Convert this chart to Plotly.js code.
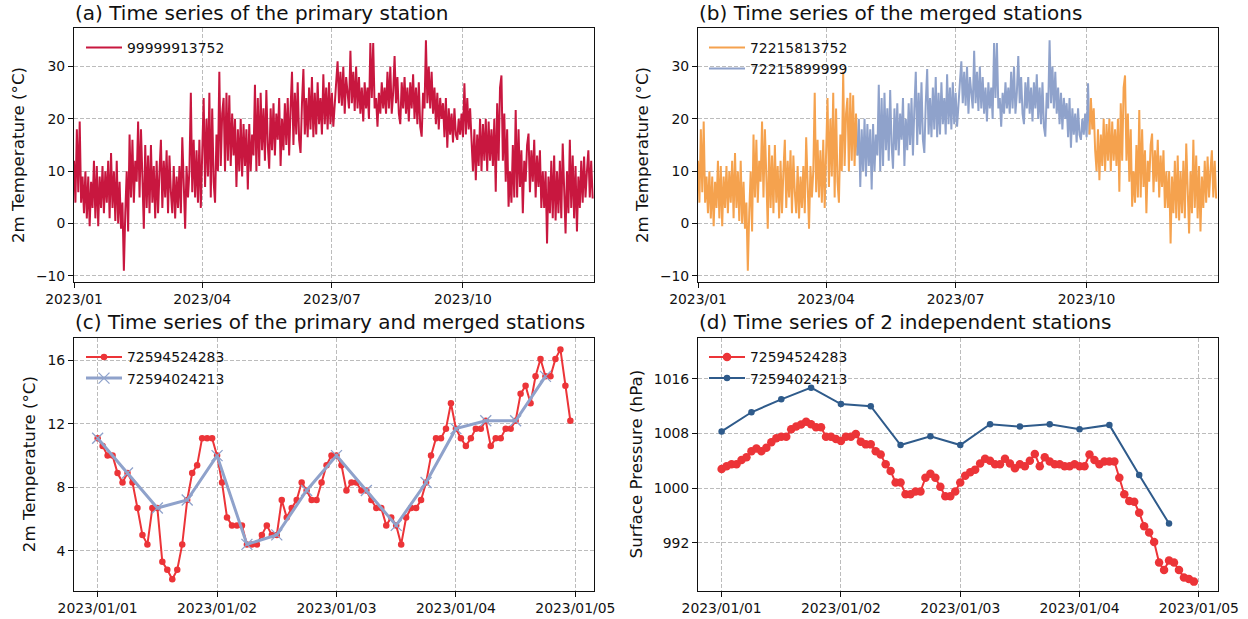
<!DOCTYPE html>
<html>
<head>
<meta charset="utf-8">
<script src="https://cdn.plot.ly/plotly-3.0.1.min.js"></script>
<style>
  html, body { margin: 0; padding: 0; background: #ffffff; }
  #chart { width: 1248px; height: 619px; }
</style>
</head>
<body>
<div id="chart"></div>
<script>
// ---- 2 m temperature (°C) through 2023, one sample per day ----
const primaryTemp = [
  12, 4, 18, 6, 19.5, 4, 9, 2, 10, 1,
  9, -0.5, 8, 3, 12, 1, 11, -0.5, 9, 3,
  11, 2, 10, 4, 12, 1, 13.5, 3, 10, 0.5,
  12, 0, 8, -1, 4, -9, 2, 10, -1.5, 17,
  5, 16, 4, 12, 8, 19.5, 5, 18, 9, -1,
  15, 3, 13, 2, 15, 4, 11, 1, 12, 2,
  10, 16, 3, 12, 5, 14, 2, 13, 6, 2,
  11, 1, 9, 3, 11, 2, 16.5, 6, -1, 11,
  5, 10, 25, 6, 16, 5, 14, 4, 16, 3,
  12, 24, 7, 20, 9, 25, 5, 22, 8, 4,
  17, 10, 29, 11, 21, 24, 10, 25, 12, 24.5,
  11, 21, 13, 20, 7, 18, 10, 20, 9, 19,
  11, 18, 6.5, 19, 10, 17, 13, 26.5, 10, 24,
  11, 25, 14, 22, 12, 25.5, 15, 10.5, 22, 14,
  23, 13, 21, 16, 24, 11, 20, 14, 23, 15,
  24, 13, 22, 29, 15, 25, 17, 27, 16, 13.5,
  23, 29.5, 17, 24, 16.5, 26, 18, 28, 16.5, 25,
  17, 27, 19, 24, 17, 28.5, 19, 26, 18, 27,
  19, 25, 18.5, 22, 27, 31, 23, 29, 22.5, 30,
  21, 28, 24, 22, 33, 23, 29, 21.5, 30, 22,
  28, 21, 26, 19.5, 27, 22, 26, 20, 34.5, 24,
  34.5, 22, 24, 18.5, 25, 21, 27, 22, 26, 21,
  29, 22, 30, 21, 25, 32, 23, 28, 21, 19,
  27, 22, 28, 21, 26, 19.5, 27, 22, 28.5, 20,
  26, 19, 27, 18.5, 16.6, 25, 22, 35, 23, 30,
  22, 29, 21, 26, 19, 25, 18, 24, 20, 23,
  16.5, 24, 14.5, 22, 17, 21, 15.5, 22, 17, 16,
  20, 17, 21, 16.5, 26.8, 17, 24, 18, 22, 14,
  10, 18, 8.3, 17, 11, 20, 10, 19, 12, 20,
  10, 19.5, 12, 18, 11, 20, 6.1, 23, 12, 26,
  28.3, 12, 21, 8, 18, 3.2, 10, 4, 15, 5,
  21.7, 5, 18, 7, 14, 2, 12, 8, 15, 17.2,
  6, 14, 8, 16, 5, 13, 7, 14, 3, 10,
  3, 10, -3.8, 9, 2, 12, 1, 13, 0.6, 10,
  2, 12, 1, 15.3, 4, -1.9, 10, 2, 16, 3,
  13, 1, 11, -1.5, 9, 3, 12, 4, 12.8, 5,
  10, 14, 5, 12, 4.8
];
const primaryId = '99999913752';
const mergedIds = ['72215813752', '72215899999'];
// day-of-year indices where the merged record changes station
const mergedSwitch = [112, 275];

// ---- first four days of January 2023 ----
const pairIds = ['72594524283', '72594024213'];
// hourly 2 m temperature (°C), station 72594524283
const tempHourly = [
  11.1, 10.6, 10.0, 10.0, 8.9, 8.3, 8.9, 8.3, 6.7, 5.0, 4.4, 6.7,
  6.7, 3.3, 2.8, 2.2, 2.8, 4.4, 7.2, 8.9, 9.4, 11.1, 11.1, 11.1,
  10.0, 8.3, 6.1, 5.6, 5.6, 5.6, 4.4, 4.4, 4.4, 5.0, 5.6, 5.0,
  5.0, 7.2, 6.1, 6.7, 7.2, 8.3, 7.8, 7.2, 7.2, 8.3, 9.4, 10.0,
  10.0, 9.4, 7.8, 8.3, 8.3, 7.8, 7.8, 7.2, 6.7, 6.7, 5.6, 6.1,
  5.6, 4.4, 6.1, 6.7, 6.7, 7.2, 8.3, 10.0, 11.1, 11.1, 11.7, 13.3,
  11.7, 11.1, 10.6, 11.1, 11.7, 11.7, 12.2, 10.6, 11.1, 11.1, 11.7, 11.7,
  12.2, 13.9, 14.4, 13.3, 15.0, 16.1, 15.0, 15.0, 16.1, 16.7, 14.4, 12.2
];
// six-hourly 2 m temperature (°C), station 72594024213
const tempSixHourly = [
  11.1, 8.9, 6.7, 7.2, 10.0, 4.4, 5.0, 7.8,
  10.0, 7.8, 5.6, 8.3, 11.7, 12.2, 12.2, 15.0
];
// hourly surface pressure (hPa), station 72594524283
const presHourly = [
  1002.8, 1003.2, 1003.5, 1003.5, 1004.1, 1004.5, 1005.4, 1005.8, 1005.4, 1005.9, 1006.7, 1007.3,
  1007.5, 1007.5, 1008.6, 1009.0, 1009.3, 1009.7, 1009.35, 1008.9, 1008.9, 1007.5, 1007.5, 1007.2,
  1006.9, 1007.5, 1007.5, 1007.9, 1006.8, 1006.4, 1006.4, 1005.4, 1004.9, 1003.5, 1002.5, 1000.8,
  1000.8, 999.1, 999.1, 999.5, 999.5, 1001.5, 1002.1, 1001.5, 1000.2, 998.8, 998.8, 999.5,
  1000.8, 1001.8, 1002.3, 1002.7, 1003.6, 1004.3, 1004.0, 1003.5, 1003.5, 1004.3, 1003.6, 1002.9,
  1003.5, 1003.2, 1004.0, 1005.0, 1003.2, 1004.5, 1003.9, 1003.5, 1003.5, 1003.2, 1003.2, 1003.5,
  1003.2, 1003.2, 1004.9, 1004.1, 1003.5, 1003.9, 1003.9, 1003.9, 1001.5, 999.1, 998.1, 998.0,
  996.4, 994.4, 993.5, 992.1, 989.1, 988.0, 989.4, 989.1, 988.0, 986.9, 986.7, 986.3
];
// six-hourly surface pressure (hPa), station 72594024213
const presSixHourly = [
  1008.3, 1011.1, 1013.0, 1014.7, 1012.3, 1012.0, 1006.3, 1007.6,
  1006.3, 1009.35, 1009.0, 1009.35, 1008.6, 1009.25, 1001.9, 994.8
];

const monthTicks = ['2023-01-01', '2023-04-01', '2023-07-01', '2023-10-01'];
const monthLabels = ['2023/01', '2023/04', '2023/07', '2023/10'];
const dayTicks = ['2023-01-01', '2023-01-02', '2023-01-03', '2023-01-04', '2023-01-05'];
const dayLabels = ['2023/01/01', '2023/01/02', '2023/01/03', '2023/01/04', '2023/01/05'];

// ---- time stamps ----
const DAY = 86400000, HOUR = 3600000, T0 = Date.UTC(2023, 0, 1);
const stamp = ms => new Date(ms).toISOString().slice(0, 19).replace('T', ' ');
const dayStamps = primaryTemp.map((_, i) => stamp(T0 + i * DAY));
const hourStamps = (arr, step) => arr.map((_, i) => stamp(T0 + i * step * HOUR));

const FONT = 'DejaVu Sans, Liberation Sans, sans-serif';
const C_PRIMARY = '#c8173f', C_ORANGE = '#f5a24e', C_LAV = '#8fa2cb';
const C_RED = '#ec3438', C_NAVY = '#2f5b8b';

const traces = [
  { x: dayStamps, y: primaryTemp, type: 'scatter', mode: 'lines', name: primaryId, showlegend: true,
    line: { color: C_PRIMARY, width: 2 }, xaxis: 'x', yaxis: 'y', legend: 'legend' },

  { x: dayStamps.slice(0, mergedSwitch[0] + 1), y: primaryTemp.slice(0, mergedSwitch[0] + 1),
    type: 'scatter', mode: 'lines', name: mergedIds[0], legendgroup: 'm0',
    line: { color: C_ORANGE, width: 2 }, xaxis: 'x2', yaxis: 'y2', legend: 'legend2' },
  { x: dayStamps.slice(mergedSwitch[0], mergedSwitch[1] + 1), y: primaryTemp.slice(mergedSwitch[0], mergedSwitch[1] + 1),
    type: 'scatter', mode: 'lines', name: mergedIds[1], legendgroup: 'm1',
    line: { color: C_LAV, width: 2 }, xaxis: 'x2', yaxis: 'y2', legend: 'legend2' },
  { x: dayStamps.slice(mergedSwitch[1]), y: primaryTemp.slice(mergedSwitch[1]),
    type: 'scatter', mode: 'lines', name: mergedIds[0], legendgroup: 'm0', showlegend: false,
    line: { color: C_ORANGE, width: 2 }, xaxis: 'x2', yaxis: 'y2', legend: 'legend2' },

  { x: hourStamps(tempHourly, 1), y: tempHourly, type: 'scatter', mode: 'lines+markers', name: pairIds[0],
    line: { color: C_RED, width: 2 }, marker: { color: C_RED, size: 6.5 },
    xaxis: 'x3', yaxis: 'y3', legend: 'legend3' },
  { x: hourStamps(tempSixHourly, 6), y: tempSixHourly, type: 'scatter', mode: 'lines+markers', name: pairIds[1],
    line: { color: C_LAV, width: 3 },
    marker: { symbol: 'x-thin', size: 11, color: C_LAV, line: { color: C_LAV, width: 1.3 } },
    xaxis: 'x3', yaxis: 'y3', legend: 'legend3' },

  { x: hourStamps(presHourly, 1), y: presHourly, type: 'scatter', mode: 'lines+markers', name: pairIds[0],
    line: { color: C_RED, width: 2 }, marker: { color: C_RED, size: 8.5 },
    xaxis: 'x4', yaxis: 'y4', legend: 'legend4' },
  { x: hourStamps(presSixHourly, 6), y: presSixHourly, type: 'scatter', mode: 'lines+markers', name: pairIds[1],
    line: { color: C_NAVY, width: 2 }, marker: { color: C_NAVY, size: 6.5 },
    xaxis: 'x4', yaxis: 'y4', legend: 'legend4' }
];

const W = 1248, H = 619;
const px = v => v / W, py = v => 1 - v / H;
const colL = [px(74), px(594)], colR = [px(698), px(1217.5)];
const rowT = [py(281.7), py(28.3)], rowB = [py(590.7), py(337.5)];

const common = {
  showline: true, mirror: true, linecolor: '#111', linewidth: 1,
  ticks: 'outside', ticklen: 5, tickwidth: 1, tickcolor: '#111',
  showgrid: true, gridcolor: '#bcbcbc', gridwidth: 1, griddash: '4px,2px',
  zeroline: false, tickfont: { family: FONT, size: 13.9, color: '#111' }
};
const xAxis = (domain, anchor, tickvals, ticktext, range) => Object.assign({}, common, {
  type: 'date', domain, anchor, tickvals, ticktext, range, tickmode: 'array'
});
const yAxis = (domain, anchor, range, tickvals, title) => Object.assign({}, common, {
  domain, anchor, range, tickvals, tickmode: 'array',
  title: { text: title, font: { family: FONT, size: 16.7, color: '#111' }, standoff: 7 }
});

const yearRange = ['2023-01-01 00:00', '2023-12-31 23:00'];
const dayRange = ['2022-12-31 19:15', '2023-01-05 03:45'];
const tempTitle = '2m Temperature (°C)';

const legendBase = (x, y) => ({
  x, y, xanchor: 'left', yanchor: 'top', bgcolor: 'rgba(0,0,0,0)', borderwidth: 0,
  font: { family: FONT, size: 13.9, color: '#111' }, itemwidth: 36, tracegroupgap: 0
});

const titleNote = (text, x, y) => ({
  text, x, y, xref: 'paper', yref: 'paper', xanchor: 'left', yanchor: 'bottom',
  showarrow: false, font: { family: FONT, size: 20, color: '#111' }
});

const layout = {
  width: W, height: H, margin: { l: 0, r: 0, t: 0, b: 0 },
  paper_bgcolor: '#ffffff', plot_bgcolor: '#ffffff', showlegend: true,
  font: { family: FONT, color: '#111' },
  xaxis: xAxis(colL, 'y', monthTicks, monthLabels, yearRange),
  yaxis: yAxis(rowT, 'x', [-11.1, 37.3], [-10, 0, 10, 20, 30], tempTitle),
  xaxis2: xAxis(colR, 'y2', monthTicks, monthLabels, yearRange),
  yaxis2: yAxis(rowT, 'x2', [-11.1, 37.3], [-10, 0, 10, 20, 30], tempTitle),
  xaxis3: xAxis(colL, 'y3', dayTicks, dayLabels, dayRange),
  yaxis3: yAxis(rowB, 'x3', [1.48, 17.45], [4, 8, 12, 16], tempTitle),
  xaxis4: xAxis(colR, 'y4', dayTicks, dayLabels, dayRange),
  yaxis4: yAxis(rowB, 'x4', [984.97, 1022.05], [992, 1000, 1008, 1016], 'Surface Pressure (hPa)'),
  legend: legendBase(px(81), py(32)),
  legend2: legendBase(px(704), py(32)),
  legend3: legendBase(px(81), py(341.5)),
  legend4: legendBase(px(704), py(341.5)),
  annotations: [
    titleNote('(a) Time series of the primary station', px(73), py(27)),
    titleNote('(b) Time series of the merged stations', px(697), py(27)),
    titleNote('(c) Time series of the primary and merged stations', px(73), py(336)),
    titleNote('(d) Time series of 2 independent stations', px(697), py(336))
  ]
};

Plotly.newPlot('chart', traces, layout, { displayModeBar: false, staticPlot: true });
</script>
</body>
</html>
